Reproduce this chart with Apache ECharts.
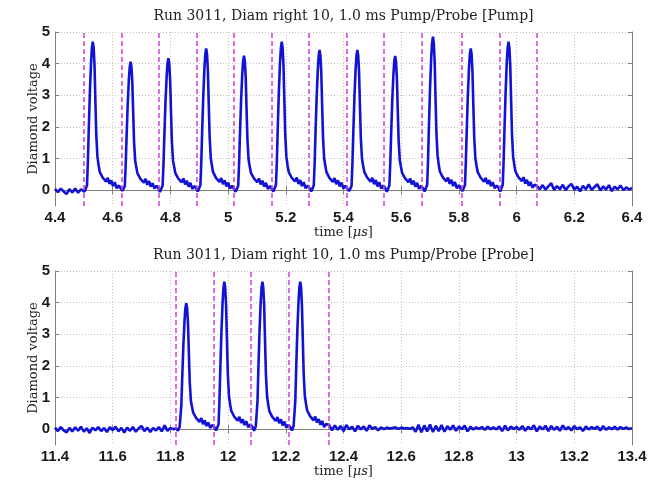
<!DOCTYPE html>
<html>
<head>
<meta charset="utf-8">
<script src="https://cdn.jsdelivr.net/npm/echarts@6/dist/echarts.min.js"></script>
<style>
  html, body { margin: 0; padding: 0; background: #fff; }
  #chart { width: 662px; height: 483px; }
</style>
</head>
<body>
<div id="chart"></div>
<script>
// sample offsets (us) inside each gate window
const pulseOffsets = [0, 0.006, 0.012, 0.015, 0.018, 0.021, 0.025, 0.029, 0.032, 0.035, 0.038, 0.041, 0.044, 0.047,
    0.051, 0.055, 0.059, 0.064, 0.069, 0.075, 0.081, 0.087, 0.093, 0.099, 0.105, 0.111, 0.118, 0.125]
const baselineStep = 0.01

// ---- Pump ----
const pumpGates = [4.496, 4.627, 4.758, 4.889, 5.020, 5.151, 5.282, 5.413, 5.544, 5.675, 5.806, 5.937, 6.068]
const pumpLeadStart = 4.40
const pumpLead = [0.04, -0.06, 0.05, -0.04, -0.12, 0.03, -0.07, 0.05, -0.08, 0.03]
const pumpPulses = [
    [0.04, -0.05, 0.08, 0.16, 0.91, 1.92, 3.13, 4.04, 4.5, 4.69, 4.5, 3.94, 2.83, 1.77, 1.06, 0.8, 0.58, 0.54, 0.4, 0.45, 0.27, 0.39, 0.2, 0.31, 0.13, 0.25, 0.06, 0.15],
    [0.12, -0.02, 0.07, 0.14, 0.79, 1.66, 2.71, 3.5, 3.89, 4.06, 3.89, 3.41, 2.45, 1.53, 0.92, 0.72, 0.53, 0.49, 0.36, 0.41, 0.24, 0.36, 0.17, 0.29, 0.11, 0.22, 0.05, 0.14],
    [0.07, -0.06, 0.08, 0.15, 0.81, 1.71, 2.79, 3.59, 4.0, 4.17, 4.0, 3.5, 2.51, 1.57, 0.94, 0.74, 0.54, 0.5, 0.37, 0.42, 0.25, 0.37, 0.18, 0.3, 0.11, 0.23, 0.04, 0.13],
    [0.06, -0.04, 0.09, 0.16, 0.87, 1.84, 2.99, 3.86, 4.3, 4.48, 4.3, 3.76, 2.7, 1.69, 1.01, 0.77, 0.57, 0.53, 0.39, 0.44, 0.26, 0.38, 0.19, 0.31, 0.12, 0.24, 0.05, 0.14],
    [0.08, -0.05, 0.07, 0.14, 0.82, 1.74, 2.84, 3.66, 4.08, 4.25, 4.08, 3.57, 2.56, 1.6, 0.96, 0.75, 0.55, 0.51, 0.38, 0.43, 0.25, 0.37, 0.18, 0.3, 0.11, 0.23, 0.04, 0.13],
    [0.07, -0.04, 0.1, 0.17, 0.91, 1.92, 3.13, 4.04, 4.5, 4.69, 4.5, 3.94, 2.83, 1.77, 1.06, 0.79, 0.58, 0.54, 0.4, 0.45, 0.28, 0.4, 0.2, 0.32, 0.13, 0.25, 0.06, 0.15],
    [0.07, -0.04, 0.08, 0.15, 0.86, 1.82, 2.96, 3.82, 4.25, 4.43, 4.25, 3.72, 2.67, 1.67, 1.0, 0.77, 0.57, 0.53, 0.39, 0.44, 0.26, 0.38, 0.19, 0.31, 0.12, 0.24, 0.05, 0.14],
    [0.09, -0.03, 0.07, 0.14, 0.86, 1.82, 2.96, 3.82, 4.25, 4.43, 4.25, 3.72, 2.67, 1.67, 1.0, 0.78, 0.58, 0.54, 0.4, 0.45, 0.27, 0.39, 0.19, 0.32, 0.12, 0.25, 0.05, 0.15],
    [0.08, -0.05, 0.08, 0.15, 0.82, 1.74, 2.83, 3.65, 4.07, 4.24, 4.07, 3.56, 2.56, 1.6, 0.96, 0.75, 0.55, 0.51, 0.38, 0.43, 0.25, 0.37, 0.18, 0.3, 0.11, 0.23, 0.04, 0.14],
    [0.07, -0.04, 0.1, 0.17, 0.94, 1.99, 3.24, 4.18, 4.65, 4.85, 4.65, 4.07, 2.92, 1.83, 1.1, 0.81, 0.59, 0.55, 0.41, 0.46, 0.28, 0.4, 0.2, 0.33, 0.13, 0.26, 0.06, 0.16],
    [0.08, -0.03, 0.09, 0.16, 0.87, 1.84, 2.99, 3.86, 4.3, 4.48, 4.3, 3.76, 2.7, 1.69, 1.01, 0.78, 0.58, 0.54, 0.4, 0.45, 0.27, 0.39, 0.2, 0.32, 0.13, 0.25, 0.06, 0.15],
    [0.08, -0.04, 0.1, 0.17, 0.91, 1.92, 3.13, 4.04, 4.5, 4.69, 4.5, 3.94, 2.83, 1.77, 1.06, 0.8, 0.59, 0.56, 0.41, 0.46, 0.29, 0.41, 0.21, 0.33, 0.14, 0.26, 0.08, 0.17],
]
const pumpTailStart = 6.07
const pumpTail = [0.14, 0.03, 0.16, 0.02, 0.12, 0.22, 0.01, 0.13, 0.03, 0.17, 0.0, 0.12, 0.2, 0.02, 0.11, -0.04, 0.14,
    0.03, 0.18, 0.01, 0.1, 0.19, -0.01, 0.12, 0.02, 0.16, -0.03, 0.11, 0.03, 0.15, 0.0, 0.09, 0.02, 0.07]

// ---- Probe ----
const probeGates = [11.820, 11.952, 12.084, 12.215, 12.346]
const probeLeadStart = 11.40
const probeLead = [0.05, -0.06, 0.07, -0.04, -0.1, 0.04, -0.07, 0.06, -0.05, 0.08, -0.08, 0.03, -0.12, 0.05, -0.04,
    0.07, -0.06, 0.04, -0.09, 0.06, -0.03, 0.08, -0.07, 0.04, -0.11, 0.05, -0.05, 0.07, -0.08, 0.03, 0.1, -0.06,
    0.05, -0.09, 0.04, -0.04, 0.07, -0.07, 0.12, -0.05, 0.04, 0.0]
const probePulses = [
    [0.03, -0.05, 0.07, 0.13, 0.77, 1.63, 2.66, 3.43, 3.82, 3.98, 3.82, 3.34, 2.4, 1.5, 0.9, 0.7, 0.52, 0.48, 0.36, 0.4, 0.23, 0.35, 0.16, 0.28, 0.1, 0.21, 0.04, 0.13],
    [0.07, -0.04, 0.09, 0.16, 0.9, 1.91, 3.11, 4.02, 4.47, 4.66, 4.47, 3.91, 2.81, 1.76, 1.05, 0.79, 0.58, 0.54, 0.4, 0.45, 0.27, 0.39, 0.2, 0.31, 0.13, 0.25, 0.06, 0.15],
    [0.08, -0.05, 0.09, 0.15, 0.9, 1.91, 3.11, 4.02, 4.47, 4.66, 4.47, 3.91, 2.81, 1.76, 1.05, 0.78, 0.57, 0.53, 0.39, 0.44, 0.26, 0.38, 0.19, 0.31, 0.12, 0.24, 0.05, 0.14],
    [0.07, -0.04, 0.1, 0.16, 0.9, 1.91, 3.11, 4.02, 4.47, 4.66, 4.47, 3.91, 2.81, 1.76, 1.05, 0.8, 0.59, 0.55, 0.41, 0.46, 0.28, 0.4, 0.21, 0.32, 0.14, 0.26, 0.07, 0.16],
]
const probeTailStart = 12.35
const probeTail = [
    0.14, -0.04, 0.12, -0.02, 0.1, -0.06, 0.13, 0.0, 0.08, -0.07,
    0.11, -0.01, 0.09, -0.05, 0.12, 0.01, 0.07, -0.04, 0.06, 0.0,
    0.05, 0.02, 0.04, 0.06, 0.01, 0.05, 0.02, 0.04, 0.01, 0.06,
    -0.08, 0.14, -0.1, 0.12, -0.07, 0.15, -0.09, 0.11, -0.06, 0.13,
    -0.08, 0.1, -0.02, 0.12, -0.05, 0.09, 0.0, 0.11, -0.07, 0.08,
    -0.01, 0.06, 0.01, 0.07, -0.02, 0.08, 0.0, 0.06, -0.01, 0.09,
    -0.06, 0.11, -0.04, 0.08, 0.01, 0.07, -0.02, 0.1, -0.05, 0.08,
    0.0, 0.12, -0.07, 0.09, -0.01, 0.11, -0.06, 0.1, -0.02, 0.08,
    -0.05, 0.12, -0.01, 0.07, -0.04, 0.1, 0.0, 0.06, -0.06, 0.09,
    -0.01, 0.07, 0.01, 0.08, -0.04, 0.1, -0.02, 0.06, 0.0, 0.08,
    -0.01, 0.07, 0.01, 0.06, 0.0, 0.04,
]

const yTicks = [0, 1, 2, 3, 4, 5]

function buildTrace(leadStart, lead, gates, pulses, tailStart, tail) {
    const pts = []
    lead.forEach((v, i) => pts.push([+(leadStart + i * baselineStep).toFixed(4), v]))
    pulses.forEach((vals, k) => {
        vals.forEach((v, i) => pts.push([+(gates[k] + pulseOffsets[i]).toFixed(4), v]))
    })
    tail.forEach((v, i) => pts.push([+(tailStart + i * baselineStep).toFixed(4), v]))
    return pts
}

const pumpTrace = buildTrace(pumpLeadStart, pumpLead, pumpGates, pumpPulses, pumpTailStart, pumpTail)
const probeTrace = buildTrace(probeLeadStart, probeLead, probeGates, probePulses, probeTailStart, probeTail)

const serif = 'DejaVu Serif'
const boxColor = '#7f7f7f'

function xAxes(gridIndex, min, max, title) {
    return [
        {
            type: 'value', gridIndex, min, max, interval: 0.2, position: 'bottom',
            axisLine: { show: true, lineStyle: { color: boxColor, width: 1 } },
            axisTick: { show: true, inside: true, length: 4, lineStyle: { color: boxColor } },
            splitLine: { show: true, lineStyle: { color: '#c4c4c4', type: [1, 2] } },
            axisLabel: { fontFamily: 'Liberation Sans', fontWeight: 'bold', fontSize: 15, color: '#1a1a1a', margin: 4 },
            name: 'time [{i|μs}]', nameLocation: 'middle', nameGap: 20,
            nameTextStyle: { fontFamily: serif, fontSize: 13, color: '#222',
                rich: { i: { fontFamily: serif, fontStyle: 'italic', fontSize: 13, color: '#222' } } },
        },
        {
            type: 'value', gridIndex, min, max, interval: 0.2, position: 'top',
            axisLine: { show: true, lineStyle: { color: boxColor, width: 1 } },
            axisTick: { show: true, inside: true, length: 4, lineStyle: { color: boxColor } },
            splitLine: { show: false }, axisLabel: { show: false },
            name: title, nameLocation: 'middle', nameGap: 9,
            nameTextStyle: { fontFamily: serif, fontSize: 14, color: '#222' },
        },
    ]
}

function yAxes(gridIndex) {
    return [
        {
            type: 'value', gridIndex, min: -0.5, max: 5, position: 'left',
            axisLine: { show: true, lineStyle: { color: boxColor, width: 1 } },
            axisTick: { show: true, inside: true, length: 4, customValues: yTicks, lineStyle: { color: boxColor } },
            splitLine: { show: true, lineStyle: { color: '#c4c4c4', type: [1, 2] } },
            axisLabel: { customValues: yTicks, fontFamily: 'Liberation Sans', fontWeight: 'bold', fontSize: 15, color: '#1a1a1a', margin: 5 },
            name: 'Diamond voltage', nameLocation: 'middle', nameGap: 15, nameMoveOverlap: false,
            nameTextStyle: { fontFamily: serif, fontSize: 13, color: '#222' },
        },
        {
            type: 'value', gridIndex, min: -0.5, max: 5, position: 'right',
            axisLine: { show: true, lineStyle: { color: boxColor, width: 1 } },
            axisTick: { show: true, inside: true, length: 4, customValues: yTicks, lineStyle: { color: boxColor } },
            splitLine: { show: false }, axisLabel: { show: false },
        },
    ]
}

function gateLines(gates) {
    return {
        silent: true,
        symbol: 'none',
        label: { show: false },
        lineStyle: { color: '#d13fd1', type: [5, 3], width: 1.5 },
        data: gates.map((g) => ({ xAxis: g })),
    }
}

const option = {
    animation: false,
    backgroundColor: '#fff',
    grid: [
        { left: 55, right: 30, top: 32, height: 174 },
        { left: 55, right: 30, top: 271, height: 174 },
    ],
    xAxis: [
        ...xAxes(0, 4.4, 6.4, 'Run 3011, Diam right 10, 1.0 ms Pump/Probe [Pump]'),
        ...xAxes(1, 11.4, 13.4, 'Run 3011, Diam right 10, 1.0 ms Pump/Probe [Probe]'),
    ],
    yAxis: [...yAxes(0), ...yAxes(1)],
    series: [
        {
            name: 'Pump', type: 'line', xAxisIndex: 0, yAxisIndex: 0,
            data: pumpTrace, showSymbol: false,
            lineStyle: { color: '#1212d6', width: 2.6 },
            markLine: gateLines(pumpGates),
        },
        {
            name: 'Probe', type: 'line', xAxisIndex: 2, yAxisIndex: 2,
            data: probeTrace, showSymbol: false,
            lineStyle: { color: '#1212d6', width: 2.6 },
            markLine: gateLines(probeGates),
        },
    ],
}

const chart = echarts.init(document.getElementById('chart'))
chart.setOption(option)
</script>
</body>
</html>
